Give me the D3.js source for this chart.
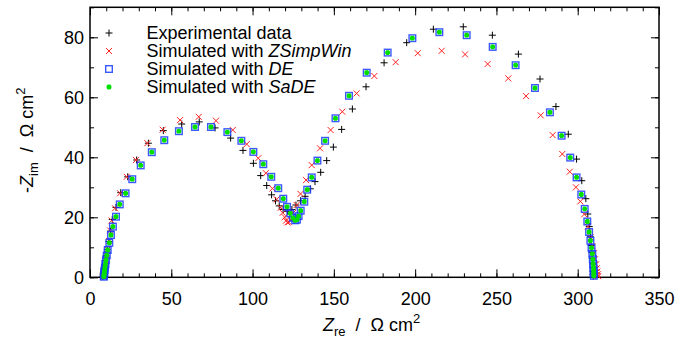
<!DOCTYPE html>
<html>
<head>
<meta charset="utf-8">
<script src="https://cdn.jsdelivr.net/npm/d3@7"></script>
<style>
  body { margin: 0; background: #fff; }
  text { font-family: "Liberation Sans", Arial, sans-serif; }
</style>
</head>
<body>
<script>
// Nyquist data: [Z_re, -Z_im] in ohm cm2
const experimental = [
  [8.0,0.3],[8.1,0.8],[8.2,1.4],[8.4,2.1],[8.6,3.0],[8.9,4.1],[9.3,5.5],[9.9,7.2],[10.6,9.3],
  [11.6,11.9],[12.6,15.4],[13.7,19.3],[16,23.3],[18.9,28.2],[23.2,33.5],[28.7,39.1],[35.9,44.7],
  [45.1,48.9],[56.4,51.1],[67.2,51.8],[76.9,49.8],[86.5,46.4],[94.1,42.3],[100.5,38],[105,33.9],
  [108.7,30.6],[111.7,27.5],[114.1,25.5],[116.4,23.8],[118.8,22.6],[121.5,22.0],[124.2,22.6],
  [126.7,24.1],[129.5,25.5],[132.3,27],[135.5,29.5],[138.4,31.9],[141.9,35],[145.6,38.9],
  [149.7,43.4],[154.8,49.3],[161.4,56.1],[169.8,63.5],[180.9,71.5],[194.8,78.2],[211.2,82.7],
  [229.6,83.5],[247.5,80.7],[263.5,74.4],[276.8,66.1],[286.6,56.9],[294.2,47.7],[299.3,39.4],
  [302.5,32.2],[305,26.2],[306.2,21.1],[307.1,16.9],[307.8,13.5],[308.3,10.6],[308.7,8.2],
  [309,6.2],[309.2,4.5],[309.3,3.1],[309.4,1.9],[309.4,1.0],[309.5,0.4]
];

const zsimpwin = [
  [8.3,0.2],[8.4,0.7],[8.5,1.3],[8.7,2.0],[8.9,2.9],[9.2,4.0],[9.6,5.4],[10.1,7.1],[10.8,9.3],
  [11.8,12.1],[12.4,15.6],[13.3,18.9],[15.4,23],[18.5,28],[22.6,33.5],[28.3,39.1],[35.3,44.7],
  [44.7,49.2],[55.4,52.4],[66.9,53.5],[77.5,52.2],[87.8,49.1],[96.4,44.4],[103.5,39.7],
  [108.2,34.7],[112.2,29.6],[114.8,26],[117.3,23.2],[118.5,21.5],[119.8,20],[120.6,18.9],
  [121.4,18.3],[122.3,18.4],[123.4,19.3],[125,21.5],[127.1,24.1],[129.5,27.8],[132.9,32.4],
  [136.4,37.4],[141.5,43],[148,49.1],[155.2,55.2],[164,61.3],[174.9,67.1],[188,71.7],
  [201.6,74.7],[216.3,75.5],[230.7,74.3],[244.6,71.1],[257.3,66.3],[268.2,60.4],[277.2,54],
  [284.6,47.4],[290.5,41.1],[295.1,35.2],[298.9,30],[301.6,25.3],[304,21],[306.3,16.9],
  [307.9,13.3],[309,10.4],[309.9,8],[310.6,6],[311.2,4.3],[311.7,3],[312.1,1.9],[312.4,1],[312.6,0.4]
];

const de = [
  [8.5,0.2],[8.6,0.6],[8.7,1.1],[8.8,1.7],[9.0,2.4],[9.2,3.3],[9.5,4.4],[9.8,5.7],[10.3,7.3],
  [10.9,9.1],[11.9,11.5],[12.9,14.1],[14.1,16.9],[16,20.2],[18.3,24.3],[21.9,28],[26,32.7],
  [31.2,37.3],[38,41.7],[45.7,45.7],[54.7,48.7],[64.6,50.1],[74.4,50.1],[84.5,48.4],[93.1,45.5],
  [100.5,41.8],[106.6,37.7],[111.5,33.5],[115.8,29.7],[118.9,26.2],[121.2,23.5],[123.2,21.3],
  [124.8,19.8],[126.2,19.0],[127.3,19.2],[128.3,20.4],[129.6,22.2],[131.8,25.2],[133.6,29.2],
  [136.4,33.3],[139.9,38.9],[144.6,45.5],[151,53],[159.3,60.5],[170.2,68.2],[183.1,74.9],
  [198.3,79.7],[214.9,81.7],[231.7,80.7],[247.7,76.8],[261.8,70.7],[273.7,63.1],[282.9,55],
  [290.1,47.2],[295.4,39.9],[299.3,33.3],[302.2,27.6],[304.3,22.8],[305.9,18.6],[307,15.1],
  [307.8,12.2],[308.5,9.8],[309,7.8],[309.3,6.0],[309.5,4.5],[309.7,3.2],[309.8,2.1],[309.9,1.2],[309.9,0.5]
];

const sade = [
  [8.5,0.2],[8.6,0.6],[8.7,1.1],[8.8,1.7],[9.0,2.4],[9.2,3.3],[9.5,4.4],[9.8,5.7],[10.3,7.3],
  [10.9,9.1],[11.9,11.5],[12.9,14.1],[14.1,16.9],[16,20.2],[18.3,24.3],[21.9,28],[26,32.7],
  [31.2,37.3],[38,41.7],[45.7,45.7],[54.7,48.7],[64.6,50.1],[74.4,50.1],[84.5,48.4],[93.1,45.5],
  [100.5,41.8],[106.6,37.7],[111.5,33.5],[115.8,29.7],[118.9,26.2],[121.2,23.5],[123.2,21.3],
  [124.8,19.8],[126.2,19.0],[127.3,19.2],[128.3,20.4],[129.6,22.2],[131.8,25.2],[133.6,29.2],
  [136.4,33.3],[139.9,38.9],[144.6,45.5],[151,53],[159.3,60.5],[170.2,68.2],[183.1,74.9],
  [198.3,79.7],[214.9,81.7],[231.7,80.7],[247.7,76.8],[261.8,70.7],[273.7,63.1],[282.9,55],
  [290.1,47.2],[295.4,39.9],[299.3,33.3],[302.2,27.6],[304.3,22.8],[305.9,18.6],[307,15.1],
  [307.8,12.2],[308.5,9.8],[309,7.8],[309.3,6.0],[309.5,4.5],[309.7,3.2],[309.8,2.1],[309.9,1.2],[309.9,0.5]
];

const xTicks = [0, 50, 100, 150, 200, 250, 300, 350];
const yTicks = [0, 20, 40, 60, 80];
const legendNames = ['Experimental data', 'Simulated with ', 'Simulated with ', 'Simulated with '];
const legendItalic = ['', 'ZSimpWin', 'DE', 'SaDE'];

const W = 678, H = 340;
const pLeft = 90, pRight = 659, pTop = 7.3, pBottom = 277.3;

const svg = d3.select('body').append('svg')
  .attr('width', W)
  .attr('height', H);

const x = d3.scaleLinear().domain([0, 350]).range([pLeft, pRight]);
const y = d3.scaleLinear().domain([0, 90]).range([pBottom, pTop]);

const minorX = d3.range(0, 351, 10);
const minorY = d3.range(0, 91, 10);

// minor ticks on all four sides, pointing inward
function minorAxis(axis, scale, vals, tr) {
  svg.append('g')
    .attr('transform', tr)
    .call(axis(scale).tickValues(vals).tickSize(-4).tickFormat(''))
    .call(g => g.select('.domain').remove());
}
minorAxis(d3.axisBottom, x, minorX, `translate(0,${pBottom})`);
minorAxis(d3.axisTop, x, minorX, `translate(0,${pTop})`);
minorAxis(d3.axisLeft, y, minorY, `translate(${pLeft},0)`);
minorAxis(d3.axisRight, y, minorY, `translate(${pRight},0)`);

// major ticks
svg.append('g')
  .attr('transform', `translate(0,${pBottom})`)
  .call(d3.axisBottom(x).tickValues(xTicks).tickSize(-8).tickPadding(15))
  .call(g => g.select('.domain').remove())
  .call(g => g.selectAll('text').style('font-size', '18px').attr('fill', '#000'));
svg.append('g')
  .attr('transform', `translate(0,${pTop})`)
  .call(d3.axisTop(x).tickValues(xTicks).tickSize(-8).tickFormat(''))
  .call(g => g.select('.domain').remove());
svg.append('g')
  .attr('transform', `translate(${pLeft},0)`)
  .call(d3.axisLeft(y).tickValues(yTicks).tickSize(-8).tickPadding(6))
  .call(g => g.select('.domain').remove())
  .call(g => g.selectAll('text').style('font-size', '18px').attr('fill', '#000'));
svg.append('g')
  .attr('transform', `translate(${pRight},0)`)
  .call(d3.axisRight(y).tickValues(yTicks).tickSize(-8).tickFormat(''))
  .call(g => g.select('.domain').remove());

svg.selectAll('.tick line').attr('stroke', '#000');

// frame
svg.append('rect')
  .attr('x', pLeft).attr('y', pTop)
  .attr('width', pRight - pLeft).attr('height', pBottom - pTop)
  .attr('fill', 'none')
  .attr('stroke', '#000')
  .attr('stroke-width', 1.5);

// marker shapes
const plusPath = s => `M${-s},0H${s}M0,${-s}V${s}`;
const crossPath = s => `M${-s},${-s}L${s},${s}M${-s},${s}L${s},${-s}`;
const starPath = s => plusPath(s) + crossPath(s * 0.75);

function drawPlus(g, pts) {
  g.selectAll('path.p').data(pts).join('path')
    .attr('class', 'p')
    .attr('transform', d => `translate(${x(d[0])},${y(d[1])})`)
    .attr('d', plusPath(3.5))
    .attr('stroke', '#000').attr('stroke-width', 1).attr('fill', 'none');
}
function drawCross(g, pts) {
  g.selectAll('path.c').data(pts).join('path')
    .attr('class', 'c')
    .attr('transform', d => `translate(${x(d[0])},${y(d[1])})`)
    .attr('d', crossPath(3))
    .attr('stroke', '#ff2020').attr('stroke-width', 1).attr('fill', 'none');
}
function drawSquare(g, pts) {
  g.selectAll('rect.s').data(pts).join('rect')
    .attr('class', 's')
    .attr('x', d => x(d[0]) - 3.3).attr('y', d => y(d[1]) - 3.3)
    .attr('width', 6.6).attr('height', 6.6)
    .attr('stroke', '#1a3cff').attr('stroke-width', 1.4).attr('fill', 'none')
    .attr('stroke-opacity', 0.85);
}
function drawStar(g, pts) {
  g.selectAll('path.st').data(pts).join('path')
    .attr('class', 'st')
    .attr('transform', d => `translate(${x(d[0])},${y(d[1])})`)
    .attr('d', starPath(2.4))
    .attr('stroke', '#00e000').attr('stroke-width', 1.8).attr('fill', 'none');
}

const plot = svg.append('g');
drawPlus(plot.append('g'), experimental);
drawCross(plot.append('g'), zsimpwin);
drawSquare(plot.append('g'), de);
drawStar(plot.append('g'), sade);

// legend
const legendX = 109, legendY0 = 33, legendStep = 18;
const drawers = [drawPlus, drawCross, drawSquare, drawStar];
drawers.forEach((fn, i) => {
  const ly = legendY0 + i * legendStep;
  fn(svg.append('g'), [[x.invert(legendX), y.invert(ly)]]);
  const t = svg.append('text')
    .attr('x', 146.5).attr('y', ly)
    .attr('dy', '0.35em')
    .style('font-size', '18px');
  t.append('tspan').text(legendNames[i]);
  if (legendItalic[i]) t.append('tspan').style('font-style', 'italic').text(legendItalic[i]);
});

// axis titles
const xt = svg.append('text')
  .attr('x', 323).attr('y', 331)
  .style('font-size', '18px');
xt.append('tspan').style('font-style', 'italic').text('Z');
xt.append('tspan').attr('dy', 5).style('font-size', '13px').text('re');
xt.append('tspan').attr('dy', -5).attr('xml:space', 'preserve').text('  /  Ω cm');
xt.append('tspan').attr('dy', -8).style('font-size', '13px').text('2');

const yt = svg.append('text')
  .attr('transform', 'translate(33,193) rotate(-90)')
  .style('font-size', '18px');
yt.append('tspan').text('-');
yt.append('tspan').style('font-style', 'italic').text('Z');
yt.append('tspan').attr('dy', 5).style('font-size', '13px').text('im');
yt.append('tspan').attr('dy', -5).attr('xml:space', 'preserve').text('  /  Ω cm');
yt.append('tspan').attr('dy', -8).style('font-size', '13px').text('2');
</script>
</body>
</html>
